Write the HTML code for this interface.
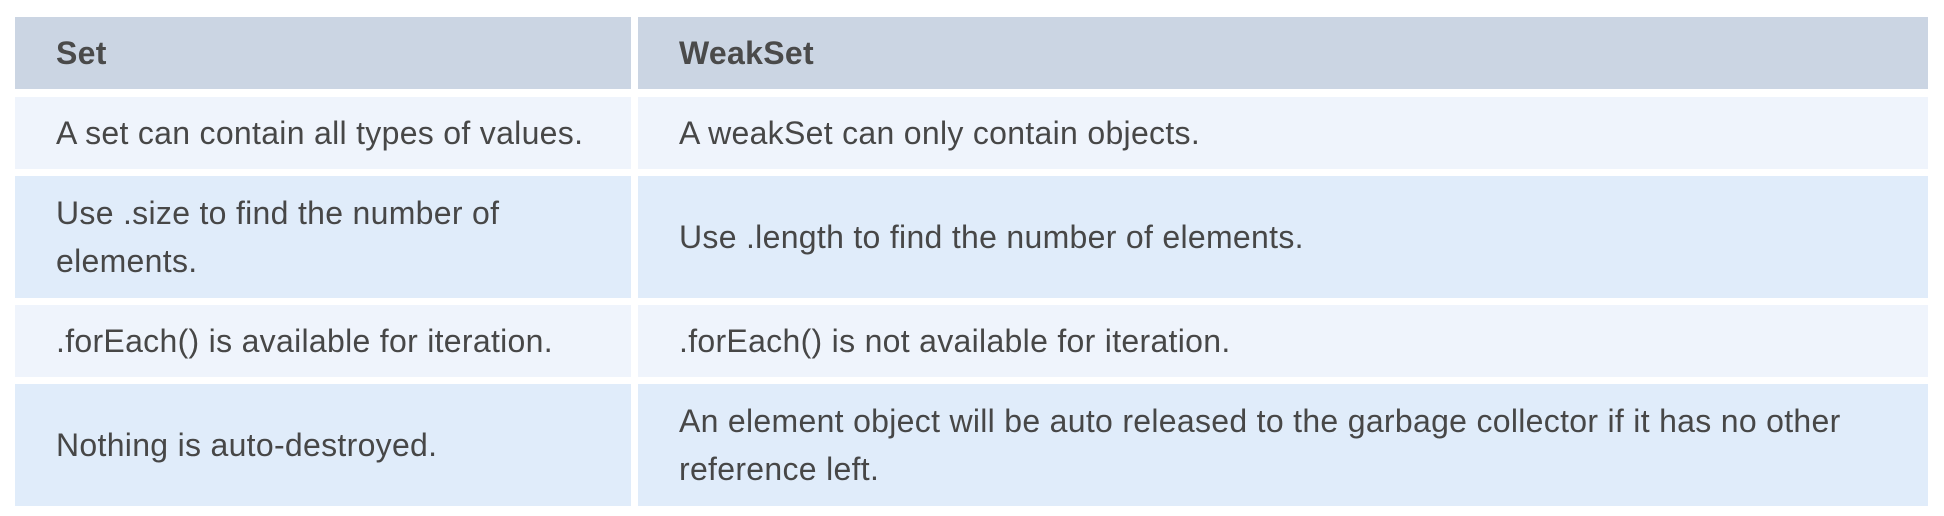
<!DOCTYPE html>
<html><head><style>
body{margin:0;width:1944px;height:516px;background:#fff;position:relative;overflow:hidden;font-family:"Liberation Sans",sans-serif;color:#474747;}
.c{position:absolute;display:flex;align-items:center;box-sizing:border-box;padding-left:41px;font-size:32px;letter-spacing:0.3px;line-height:48px;}
.h{background:#cbd5e3;font-weight:bold;color:#4a4a4a;}
.o{background:#eff4fc;}
.e{background:#e0ecfa;}
.l{left:15px;width:616px;}
.r{left:638px;width:1290px;}
</style></head><body>
<div class="c h l" style="top:17px;height:72px">Set</div>
<div class="c h r" style="top:17px;height:72px">WeakSet</div>
<div class="c o l" style="top:97px;height:72px">A set can contain all types of values.</div>
<div class="c o r" style="top:97px;height:72px">A weakSet can only contain objects.</div>
<div class="c e l" style="top:176px;height:122px;padding-right:20px">Use .size to find the number of<br>elements.</div>
<div class="c e r" style="top:176px;height:122px">Use .length to find the number of elements.</div>
<div class="c o l" style="top:305px;height:72px">.forEach() is available for iteration.</div>
<div class="c o r" style="top:305px;height:72px">.forEach() is not available for iteration.</div>
<div class="c e l" style="top:384px;height:122px">Nothing is auto-destroyed.</div>
<div class="c e r" style="top:384px;height:122px;padding-right:10px">An element object will be auto released to the garbage collector if it has no other<br>reference left.</div>
</body></html>
